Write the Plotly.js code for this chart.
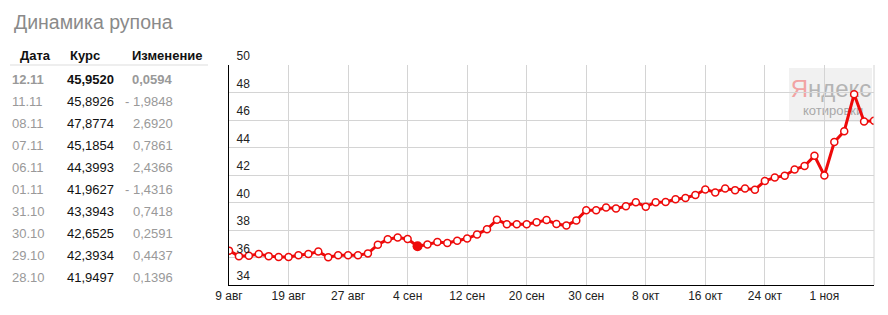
<!DOCTYPE html>
<html>
<head>
<meta charset="utf-8">
<script src="https://cdn.plot.ly/plotly-3.0.1.min.js"></script>
<style>
html,body{margin:0;padding:0;background:#fff;}
#chart{width:888px;height:315px;}
</style>
</head>
<body>
<div id="chart"></div>
<script>
// ---- data ----
const dates = ["09.08","12.08","13.08","14.08","15.08","16.08","19.08","20.08","21.08","22.08","23.08","26.08","27.08","28.08","29.08","30.08",
  "02.09","03.09","04.09","05.09","06.09","09.09","10.09","11.09","12.09","13.09","16.09","17.09","18.09","19.09","20.09","23.09","24.09","25.09","26.09","27.09","30.09",
  "01.10","02.10","03.10","04.10","07.10","08.10","09.10","10.10","11.10","14.10","15.10","16.10","17.10","18.10","21.10","22.10","23.10","24.10","25.10","28.10","29.10","30.10","31.10",
  "01.11","06.11","07.11","08.11","11.11","12.11"];
const rates = [36.50,36.10,36.12,36.25,36.10,36.03,36.03,36.17,36.25,36.43,36.02,36.17,36.17,36.17,36.30,36.93,
  37.33,37.45,37.35,36.82,36.95,37.12,37.05,37.22,37.38,37.68,38.05,38.75,38.42,38.42,38.42,38.57,38.72,38.44,38.32,38.70,39.44,
  39.44,39.63,39.57,39.73,40.02,39.70,40.02,40.04,40.24,40.33,40.55,40.95,40.73,41.02,40.90,41.02,40.93,41.57,41.8101,41.9497,42.3934,42.6525,43.3943,
  41.9627,44.3993,45.1854,47.8774,45.8926,45.9520];
const tickDates = ["09.08","19.08","27.08","04.09","12.09","20.09","30.09","08.10","16.10","24.10","01.11"];
const tickLabels = ["9 авг","19 авг","27 авг","4 сен","12 сен","20 сен","30 сен","8 окт","16 окт","24 окт","1 ноя"];
const highlightDate = "05.09";

const tableHeaders = ["Дата","Курс","Изменение"];
const tableDates = ["12.11","11.11","08.11","07.11","06.11","01.11","31.10","30.10","29.10","28.10"];
const tableRates = ["45,9520","45,8926","47,8774","45,1854","44,3993","41,9627","43,3943","42,6525","42,3934","41,9497"];
const tableChanges = ["0,0594","- 1,9848","2,6920","0,7861","2,4366","- 1,4316","0,7418","0,2591","0,4437","0,1396"];

const titleText = "Динамика рупона";

// ---- layout helpers (pixel -> paper) ----
const L = 229, R = 874, T = 65, B = 285;
const px = v => (v - L) / (R - L);
const py = v => (B - v) / (B - T);
const FONT = "Liberation Sans, Arial, sans-serif";

const hIdx = dates.indexOf(highlightDate);

const traces = [
  {
    type: "scatter", mode: "lines+markers",
    x: dates, y: rates,
    line: {color: "#ee0a0a", width: 3},
    marker: {size: 7, color: "#ffffff", line: {color: "#ee0a0a", width: 1.5}},
    hoverinfo: "skip"
  },
  {
    type: "scatter", mode: "markers",
    x: [dates[hIdx]], y: [rates[hIdx]],
    marker: {size: 10, color: "#ee0a0a", line: {width: 0}},
    hoverinfo: "skip"
  }
];

const annotations = [];
const hdrX = [18, 68, 130];
tableHeaders.forEach((h, i) => {
  annotations.push({xref: "paper", yref: "paper", x: px(hdrX[i]), y: py(55.5), xanchor: "left", yanchor: "middle",
    text: "<b>" + h + "</b>", showarrow: false, font: {family: FONT, size: 13, color: "#111"}});
});
tableDates.forEach((d, i) => {
  const yc = 79 + i * 22.04;
  const first = i === 0;
  const wrap = s => first ? "<b>" + s + "</b>" : s;
  annotations.push({xref: "paper", yref: "paper", x: px(10), y: py(yc), xanchor: "left", yanchor: "middle",
    text: wrap(d), showarrow: false, font: {family: FONT, size: 13, color: "#999"}});
  annotations.push({xref: "paper", yref: "paper", x: px(116), y: py(yc), xanchor: "right", yanchor: "middle",
    text: wrap(tableRates[i]), showarrow: false, font: {family: FONT, size: 13, color: "#111"}});
  annotations.push({xref: "paper", yref: "paper", x: px(175), y: py(yc), xanchor: "right", yanchor: "middle",
    text: wrap(tableChanges[i]), showarrow: false, font: {family: FONT, size: 13, color: "#999"}});
});

const shapes = [
  // header underline
  {type: "line", xref: "paper", yref: "paper", x0: px(10), x1: px(208), y0: py(65), y1: py(65),
    line: {color: "#dddddd", width: 1}},
  // right frame
  {type: "line", xref: "paper", yref: "paper", x0: 1, x1: 1, y0: 0, y1: 1, line: {color: "#d4d4d4", width: 1}},
  // Yandex watermark box
  {type: "rect", xref: "paper", yref: "paper", layer: "below", x0: px(789), x1: px(872), y0: py(122), y1: py(68),
    fillcolor: "rgba(232,232,232,0.6)", line: {width: 0}},
  {type: "rect", xref: "paper", yref: "paper", layer: "below", x0: px(796), x1: px(866), y0: py(97), y1: py(75),
    fillcolor: "rgba(0,0,0,0)", line: {width: 0},
    label: {text: "<span style='color:#f2a3a3'>Я</span>ндекс", textposition: "middle center",
      font: {family: FONT, size: 24, color: "#b4b4b4"}}},
  {type: "rect", xref: "paper", yref: "paper", layer: "below", x0: px(797), x1: px(872), y0: py(116), y1: py(102),
    fillcolor: "rgba(0,0,0,0)", line: {width: 0},
    label: {text: "котировки", textposition: "middle left",
      font: {family: FONT, size: 13, color: "#a8a8a8"}}}
];

const layout = {
  width: 888, height: 315,
  margin: {l: L, r: 888 - R, t: T, b: 315 - B, pad: 0},
  paper_bgcolor: "#fff", plot_bgcolor: "#fff",
  showlegend: false,
  font: {family: FONT, size: 12, color: "#222"},
  title: {text: titleText, xref: "container", yref: "container", x: 14 / 888, xanchor: "left",
    y: 1 - 22 / 315, yanchor: "middle", font: {family: FONT, size: 19.5, color: "#8a8a8a"}},
  xaxis: {
    type: "category", range: [0, 65], categoryorder: "array", categoryarray: dates,
    tickmode: "array", tickvals: tickDates, ticktext: tickLabels,
    showgrid: true, gridcolor: "#d4d4d4", gridwidth: 1,
    showline: true, linecolor: "#000", linewidth: 1, ticks: "",
    tickfont: {family: FONT, size: 12, color: "#222"}, zeroline: false, fixedrange: true
  },
  yaxis: {
    range: [34, 50], tick0: 34, dtick: 2,
    showgrid: true, gridcolor: "#d4d4d4", gridwidth: 1,
    showline: true, linecolor: "#000", linewidth: 1, ticks: "",
    ticklabelposition: "inside", ticklabelshift: -9, ticklabelstandoff: 7, ticklabeloverflow: "allow",
    tickfont: {family: FONT, size: 12, color: "#222"}, zeroline: false, fixedrange: true
  },
  annotations: annotations,
  shapes: shapes
};

Plotly.newPlot("chart", traces, layout, {displayModeBar: false, staticPlot: true});
</script>
</body>
</html>
